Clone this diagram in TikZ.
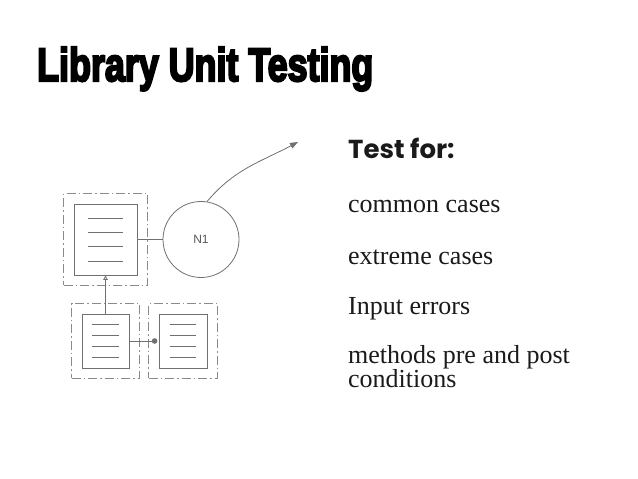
\documentclass[tikz,border=0pt]{standalone}
\usepackage{fontspec}
\usepackage{graphicx}
\setmainfont{Liberation Serif}
\newfontfamily\titlefont[FakeBold=5]{Liberation Sans Bold}
\newfontfamily\headfont{Poppins}
\newfontfamily\labelfont{Liberation Sans}
\definecolor{DiagramGray}{HTML}{707070}
\definecolor{FrameGray}{HTML}{8A8A8A}
\definecolor{LabelGray}{HTML}{555555}
\definecolor{BodyInk}{HTML}{1A1A1A}
\usetikzlibrary{arrows.meta,positioning,fit,calc}

\begin{document}
\begin{tikzpicture}[x=1pt,y=1pt,
    docbox/.style={draw=DiagramGray, line width=0.8pt, inner sep=0pt, fill=white},
    dashframe/.style={draw=FrameGray, line width=0.7pt,
      dash pattern=on 9pt off 3pt on 1.5pt off 3pt, inner sep=10pt},
    docrule/.style={draw=DiagramGray, line width=0.8pt},
    wire/.style={draw=DiagramGray, line width=0.8pt},
    testitem/.style={anchor=base west, inner sep=0pt, align=left,
      font=\fontsize{26}{23}\selectfont, text=BodyInk}
  ]
  \useasboundingbox (0,0) rectangle (638,479);

  % heading
  \node[anchor=base west, inner sep=0pt] (title) at (37,398)
    {\resizebox{336pt}{34pt}{\titlefont Library Unit Testing}};

  % module diagram
  \node[docbox, minimum width=63pt, minimum height=71pt] (docA) at (105.5,239.5) {};
  \node[docbox, minimum width=47pt, minimum height=54pt] (docB) at (105.5,138) {};
  \node[docbox, minimum width=48pt, minimum height=54pt] (docC) at (183,138) {};
  \node[dashframe, fit=(docA)] (frameA) {};
  \node[dashframe, fit=(docB)] (frameB) {};
  \node[dashframe, fit=(docC)] (frameC) {};
  \foreach \d in {docA,docB,docC}
    \foreach \k in {1,...,4}
      \draw[docrule] let \p1=(\d.south west), \p2=(\d.north east) in
        ({\x1+0.225*(\x2-\x1)}, {\y2-\k*(\y2-\y1)/5}) --
        ({\x1+0.775*(\x2-\x1)}, {\y2-\k*(\y2-\y1)/5});

  \node[circle, draw=DiagramGray, line width=0.8pt, minimum size=76pt, inner sep=0pt,
    font=\labelfont\fontsize{12}{14}\selectfont, text=LabelGray] (n1) at (201,239.5) {N1};
  \coordinate (target) at (298,337);

  \draw[wire] (docA) -- (n1);
  \draw[wire, -{Triangle[open, length=4.5pt, width=4.5pt]}] (docB) -- (docA);
  \draw[wire, -{Circle[length=5.5pt]}, shorten >=1.25pt] (docB) -- (docC);
  \draw[wire, -{Triangle[length=8pt, width=6pt]}] (n1.81) to[out=50, in=208] (target);

  % checklist
  \node[anchor=base west, inner sep=0pt, text=BodyInk,
    font=\headfont\fontsize{26}{30}\selectfont\bfseries] (testfor) at (348,320) {Test for:};
  \node[testitem] (common) at (348,266) {common cases};
  \node[testitem] (extreme) at (348,214) {extreme cases};
  \node[testitem] (inputerr) at (348,164) {Input errors};
  \node[testitem] (prepost) at (348,91) {methods pre and post\\conditions};
\end{tikzpicture}
\end{document}
